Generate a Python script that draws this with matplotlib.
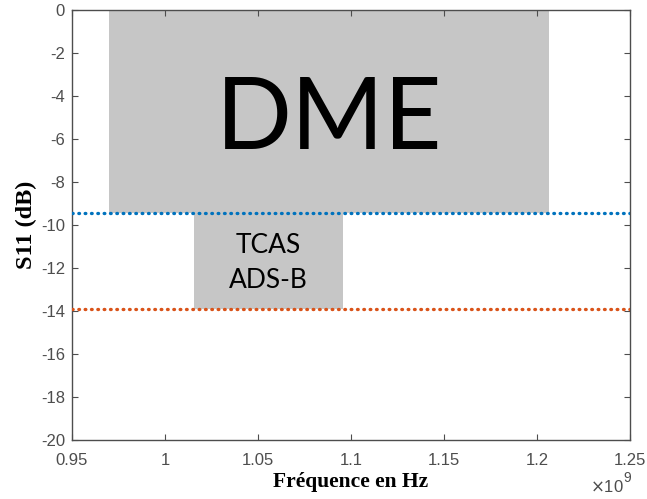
import numpy as np
import matplotlib.pyplot as plt
from matplotlib.patches import Rectangle

plt.rcParams['axes.unicode_minus'] = False

# band limits (Hz) and S11 thresholds (dB)
dme_band = [0.9697e9, 1.2066e9]
tcas_band = [1.0156e9, 1.0959e9]
dme_level = -9.46
tcas_level = -13.92
x_span = [0.95e9, 1.25e9]
x_ticks = [0.95e9, 1.0e9, 1.05e9, 1.1e9, 1.15e9, 1.2e9, 1.25e9]
x_ticklabels = ['0.95', '1', '1.05', '1.1', '1.15', '1.2', '1.25']
y_ticks = np.arange(-20, 1, 2)

tick_col = '#4d4d4d'
gray_box = '#c6c6c6'

fig = plt.figure(figsize=(6.47, 4.99), dpi=100)
ax = fig.add_axes([0.1113, 0.1182, 0.8624, 0.8618])

ax.add_patch(Rectangle((dme_band[0], dme_level), dme_band[1]-dme_band[0], 0-dme_level,
                       facecolor=gray_box, edgecolor='none', zorder=1))
ax.add_patch(Rectangle((tcas_band[0], tcas_level), tcas_band[1]-tcas_band[0], dme_level-tcas_level,
                       facecolor=gray_box, edgecolor='none', zorder=1))

# dotted thresholds
ax.plot(x_span, [dme_level, dme_level], color='#0072BD', lw=2.4,
        linestyle=(0, (0.2, 1.7)), dash_capstyle='round', zorder=3)
ax.plot(x_span, [tcas_level, tcas_level], color='#D95319', lw=2.4,
        linestyle=(0, (0.2, 1.7)), dash_capstyle='round', zorder=3)

ax.text(np.mean(dme_band), -5.12, 'DME', fontsize=72, family='Lato',
        ha='center', va='center', zorder=4)
ax.text(np.mean(tcas_band), -11.75, 'TCAS\nADS-B', fontsize=19, family='Lato',
        ha='center', va='center', linespacing=1.5, zorder=4)

ax.set_xlim(x_span)
ax.set_ylim(-20, 0)
ax.set_xticks(x_ticks)
ax.set_xticklabels(x_ticklabels)
ax.set_yticks(y_ticks)
ax.tick_params(direction='in', length=4, width=0.8, colors=tick_col, labelsize=12,
               top=True, right=True)
ax.tick_params(axis='x', pad=9)
ax.tick_params(axis='y', pad=5)
for lbl in ax.get_xticklabels() + ax.get_yticklabels():
    lbl.set_family('Liberation Sans')
for s in ax.spines.values():
    s.set_color(tick_col)
    s.set_linewidth(1.0)

ax.set_xlabel('Fréquence en Hz', family='Liberation Serif', fontweight='bold',
              fontsize=15.5, color='black', labelpad=3)
ax.set_ylabel('S11 (dB)', family='Liberation Serif', fontweight='bold',
              fontsize=17.5, color='black', labelpad=3)

fig.text(0.912, 0.008, r'$\times\mathregular{10}$', color=tick_col, fontsize=12,
         family='Liberation Sans', ha='left', va='bottom')
fig.text(0.964, 0.028, '9', color=tick_col, fontsize=10,
         family='Liberation Sans', ha='left', va='bottom')

fig.savefig('out.png', dpi=100)
